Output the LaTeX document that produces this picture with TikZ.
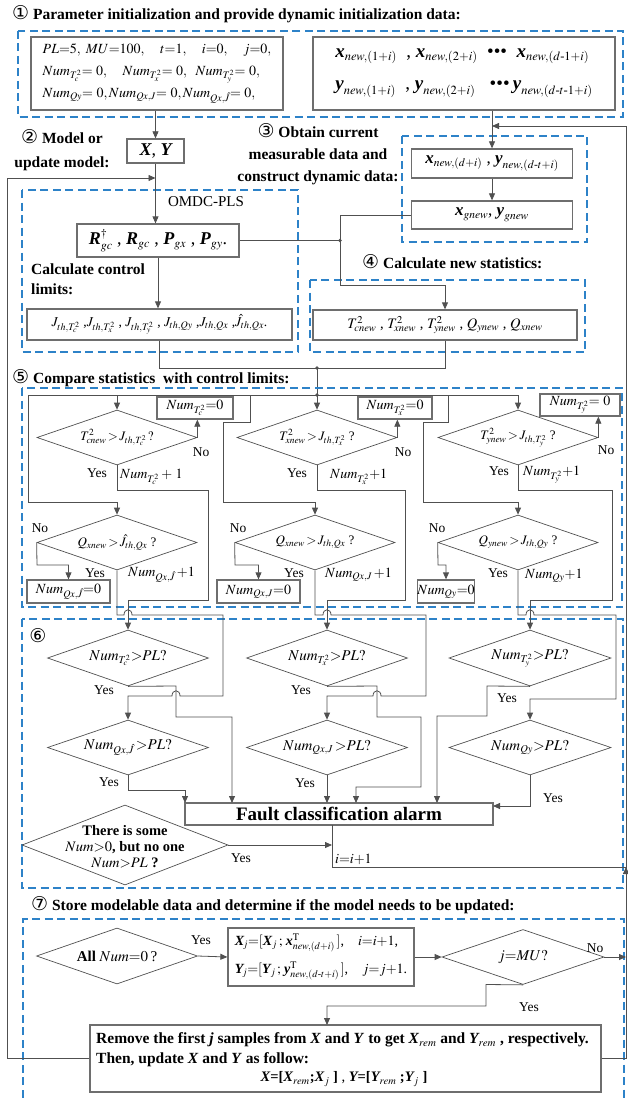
\documentclass[tikz,border=0pt]{standalone}
\usepackage{mathptmx}
\usepackage{amsmath}
\usepackage[no-math]{fontspec}
\setmainfont{Liberation Serif}
\newfontfamily\dejavu{DejaVu Sans}
\usetikzlibrary{arrows.meta,shapes.geometric}
\DeclareMathSizes{13}{13}{9.5}{7.5}
\DeclareMathSizes{13.5}{13.5}{10}{8}
\DeclareMathSizes{14}{14}{10}{8}
\DeclareMathSizes{14.5}{14.5}{10.5}{8}
\DeclareMathSizes{15}{15}{10.5}{8}
\DeclareMathSizes{15.5}{15.5}{11}{8.5}
\DeclareMathSizes{17}{17}{11.5}{9}
\DeclareMathSizes{18}{18}{12}{9}
\DeclareMathSizes{19}{19}{12.5}{9.5}
\definecolor{dblue}{RGB}{45,130,200}
\definecolor{boxgray}{RGB}{110,110,110}
\definecolor{lgray}{RGB}{80,80,80}
\newcommand{\bi}[1]{\text{\bfseries\itshape #1}}
\newcommand{\cn}[1]{{\dejavu\mdseries\fontsize{19}{19}\selectfont #1}}
\newcommand{\fsz}[2]{\fontsize{#1}{#2}\selectfont}
\begin{document}
\begin{tikzpicture}[x=1pt,y=-1pt,
  box/.style={draw=boxgray, line width=1.3pt, rectangle, inner sep=0pt},
  dia/.style={draw=lgray, line width=0.7pt, diamond, inner sep=0pt},
  conn/.style={draw=lgray, line width=0.8pt},
  arr/.style={conn, -{Triangle[length=7pt,width=6pt]}},
  dbox/.style={draw=dblue, line width=1.3pt, dash pattern=on 8pt off 4.5pt},
  ttl/.style={font=\fsz{15.5}{23}\bfseries, inner sep=0pt},
  lab/.style={font=\fsz{13.5}{15}, inner sep=0pt},
  dtxt/.style={font=\fsz{13}{15}, inner sep=0pt},
  dot/.style={fill=lgray}
]
\useasboundingbox (0,0) rectangle (628,1102);

% ---------- Section 1 ----------
\node[ttl, anchor=west] (t1) at (12,14) {\cn{①} Parameter initialization and provide dynamic initialization data:};
\draw[dbox] (18,31) rectangle (623,117);
\node[box, minimum width=252pt, minimum height=73pt, align=left, font=\fsz{14}{22}] (pa) at (157,73.5)
 {$PL{=}5,\ MU{=}100,\quad t{=}1,\quad i{=}0,\quad j{=}0,$\\
  $Num_{T^2_c}{=}\ 0,\quad Num_{T^2_x}{=}\ 0,\ \ Num_{T^2_y}{=}\ 0,$\\
  $Num_{Qy}{=}\ 0, Num_{Qx,J}{=}\ 0, Num_{Qx,\hat{J}}{=}\ 0,$};
\node[box, minimum width=302pt, minimum height=73pt, align=left, font=\fsz{19}{32}] (pb) at (464,73.5)
 {$\bi{x}_{new,(1+i)}$ \ , $\bi{x}_{new,(2+i)}$ \ \textbullet\textbullet\textbullet\ \ $\bi{x}_{new,(d\text{-}1+i)}$\\
  $\bi{y}_{new,(1+i)}$ \ , $\bi{y}_{new,(2+i)}$ \ \ \textbullet\textbullet\textbullet\,$\bi{y}_{new,(d\text{-}t\text{-}1+i)}$};

% ---------- Section 2 ----------
\node[ttl, align=center, font=\fsz{15.5}{24}\bfseries] (t2) at (62,150) {\cn{②} Model or\\update model:};
\node[box, minimum width=57pt, minimum height=24pt, font=\fsz{18}{20}] (xy) at (155.5,151) {$\bi{X}$, $\bi{Y}$};
\draw[dbox] (22,190) rectangle (298,352);
\node[font=\fsz{15}{17}, inner sep=0pt] (omdc) at (206,202) {OMDC-PLS};
\node[box, minimum width=162pt, minimum height=33pt, font=\fsz{18}{20}] (rr) at (158,240.5)
 {$\bi{R}^{\dagger}_{gc}$ , $\bi{R}_{gc}$ , $\bi{P}_{gx}$ , $\bi{P}_{gy}$.};
\node[ttl, anchor=north west, align=left, font=\fsz{15.5}{20}\bfseries] (t2b) at (31,264) {Calculate control\\limits:};
\node[box, minimum width=265pt, minimum height=31pt, font=\fsz{13.5}{15}] (jb) at (159.5,324.5)
 {$J_{th,T^2_c}$ ,$J_{th,T^2_x}$ , $J_{th,T^2_y}$ , $J_{th,Q y}$ ,$J_{th,Q x}$ ,$\hat{J}_{th,Q x}$.};

% ---------- Section 3 ----------
\node[ttl, align=center, font=\fsz{15.5}{22}\bfseries] (t3) at (318,154) {\cn{③} Obtain current\\measurable data and\\construct dynamic data:};
\draw[dbox] (402,136) rectangle (587,242);
\node[box, minimum width=161pt, minimum height=29pt, font=\fsz{17}{19}] (cb) at (492,163.5)
 {$\bi{x}_{new,(d+i)}$ , $\bi{y}_{new,(d\text{-}t+i)}$};
\node[box, minimum width=161pt, minimum height=28pt, font=\fsz{17}{19}] (dd) at (492,215)
 {$\bi{x}_{gnew}$,\ $\bi{y}_{gnew}$};

% ---------- Section 4 ----------
\node[ttl, anchor=west] (t4) at (362,262) {\cn{④} Calculate new statistics:};
\draw[dbox] (310,280) rectangle (585,352);
\node[box, minimum width=264pt, minimum height=30pt, font=\fsz{14.5}{16}] (sb) at (445,325)
 {$T^2_{cnew}$ , $T^2_{xnew}$ , $T^2_{ynew}$ , $Q_{ynew}$ , $Q_{xnew}$};

% connectors sections 1-4
\draw[arr] (xy.north |- pa.south) -- (xy.north);
\draw[arr] (xy.south) -- (xy.south |- rr.north);
\draw[arr] (rr.south) -- (rr.south |- jb.north);
\coordinate (j1) at (340,240.5);
\draw[conn] (rr.east) -- (j1);
\draw[arr] (dd.west) -| (340,285) -| (sb.north);
\fill[dot] (j1) circle (1.8pt);
\draw[arr] (cb.north |- pb.south) -- (cb.north);
\draw[arr] (cb.south) -- (dd.north);
\coordinate (rt) at (626,126);
\draw[arr] (rt) -- (492,126);
\coordinate (j2) at (317,368);
\coordinate (j3) at (317,395);
\draw[conn] (jb.south) |- (j2);
\draw[conn] (sb.south) |- (j2);
\draw[conn] (j2) -- (j3);
\fill[dot] (j2) circle (1.8pt);
\fill[dot] (j3) circle (1.8pt);

% feedback loop on the left
\coordinate (lf) at (7,178);
\draw[arr] (lf) -- (155.5,178);

% ---------- Section 5 ----------
\node[ttl, anchor=west] (t5) at (12,378) {\cn{⑤} Compare statistics\ \ with control limits:};
\draw[dbox] (22,388) rectangle (622,607);

\node[dia, minimum width=160pt, minimum height=55pt] (tc) at (117,437.5) {};
\node[dia, minimum width=160pt, minimum height=55pt] (tx) at (317,437.5) {};
\node[dia, minimum width=160pt, minimum height=55pt] (ty) at (518,437.5) {};
\node[dtxt] (tcl) at (tc) {$T^2_{cnew}\,{>}\,J_{th,T^2_c}\,?$};
\node[dtxt] (txl) at (tx) {$T^2_{xnew}\,{>}\,J_{th,T^2_x}$ ?};
\node[dtxt] (tyl) at (ty) {$T^2_{ynew}\,{>}\,J_{th,T^2_y}$ ?};

\node[dia, minimum width=160pt, minimum height=55pt] (q1) at (117,542.5) {};
\node[dia, minimum width=160pt, minimum height=55pt] (q2) at (315,542.5) {};
\node[dia, minimum width=160pt, minimum height=55pt] (q3) at (518,542.5) {};
\node[dtxt] (q1l) at (q1) {$Q_{xnew}\,{>}\,\hat{J}_{th,Q x}$ ?};
\node[dtxt] (q2l) at (q2) {$Q_{xnew}\,{>}\,J_{th,Q x}$ ?};
\node[dtxt] (q3l) at (q3) {$Q_{ynew}\,{>}\,J_{th,Q y}$ ?};

\node[box, minimum width=76pt, minimum height=22pt, font=\fsz{14}{15}] (ntc) at (195,408) {$Num_{T^2_c}{=}0$};
\node[box, minimum width=74pt, minimum height=22pt, font=\fsz{14}{15}] (ntx) at (395,408) {$Num_{T^2_x}{=}0$};
\node[box, minimum width=80pt, minimum height=22pt, font=\fsz{14}{15}] (nty) at (580,405) {$Num_{T^2_y}{=}\ 0$};
\node[box, minimum width=83pt, minimum height=23pt, font=\fsz{14}{15}] (nq1) at (68.5,591.5) {$Num_{Qx,\hat{J}}{=}0$};
\node[box, minimum width=83pt, minimum height=23pt, font=\fsz{14}{15}] (nq2) at (258.5,591.5) {$Num_{Qx,J}{=}0$};
\node[box, minimum width=57pt, minimum height=23pt, font=\fsz{14}{15}] (nq3) at (446,591.5) {$Num_{Qy}{=}0$};

% bus and drops
\draw[arr] (j3) -- (tx.north);
\draw[arr] (j3) -| (tc.north);
\draw[arr] (j3) -| (ty.north);
\draw[arr] (tc.north |- j3) -- (28,395) -- (28,502) -| (q1.north);
\draw[arr] (250,395) -- (250,422) -- (223,422) -- (223,502) -| (q2.north);
\draw[arr] (448,395) -- (448,422) -- (423,422) -- (423,502) -| (q3.north);

% No branches
\draw[arr] (tc.east) -- (tc.east |- ntc.south);
\draw[arr] (tx.east) -- (tx.east |- ntx.south);
\draw[arr] (ty.east) -- (ty.east |- nty.south);
\draw[arr] (q1.west) -- (37,565) -| (nq1.north);
\draw[arr] (q2.west) -- (235,565) -| (nq2.north);
\draw[arr] (q3.west) -- (438,565) -| (nq3.north);

% labels section 5
\node[lab] (y1) at (97,473) {Yes};
\node[lab] (y2) at (297,473) {Yes};
\node[lab] (y3) at (499,471) {Yes};
\node[lab] (n1) at (201,452) {No};
\node[lab] (n2) at (403,452) {No};
\node[lab] (n3) at (606,450) {No};
\node[dtxt, anchor=west, font=\fsz{14}{15}] (p1) at (120,477) {$Num_{T^2_c}+\,1$};
\node[dtxt, anchor=west, font=\fsz{14}{15}] (p2) at (330,477) {$Num_{T^2_x}{+}1$};
\node[dtxt, anchor=west, font=\fsz{14}{15}] (p3) at (523,475) {$Num_{T^2_y}{+}1$};
\node[lab] (n4) at (40,528) {No};
\node[lab] (n5) at (238,528) {No};
\node[lab] (n6) at (437,528) {No};
\node[lab] (y4) at (95,573) {Yes};
\node[lab] (y5) at (294,573) {Yes};
\node[lab] (y6) at (498,573) {Yes};
\node[dtxt, anchor=west, font=\fsz{14}{15}] (p4) at (128,575) {$Num_{Qx,\hat{J}}\,{+}1$};
\node[dtxt, anchor=west, font=\fsz{14}{15}] (p5) at (325,575) {$Num_{Qx,J}\,{+}1$};
\node[dtxt, anchor=west, font=\fsz{14}{15}] (p6) at (525,576) {$Num_{Qy}{+}1$};

% ---------- Section 6 ----------
\draw[dbox] (22,619) rectangle (623,888);
\node[inner sep=0pt] (c6) at (38,636) {\cn{⑥}};
\node[dia, minimum width=161pt, minimum height=56pt] (d1) at (128,658) {};
\node[dia, minimum width=161pt, minimum height=55pt] (d2) at (128,747.5) {};
\node[dia, minimum width=161pt, minimum height=56pt] (d3) at (327,658) {};
\node[dia, minimum width=161pt, minimum height=55pt] (d4) at (327,747.5) {};
\node[dia, minimum width=162pt, minimum height=56pt] (d5) at (530,658) {};
\node[dia, minimum width=162pt, minimum height=55pt] (d6) at (530,747.5) {};
\node[dtxt, font=\fsz{15}{16}] (d1l) at (d1) {$Num_{T^2_c}{>}PL?$};
\node[dtxt, font=\fsz{15}{16}] (d2l) at (d2) {$Num_{Qx,\hat{J}}\,{>}PL?$};
\node[dtxt, font=\fsz{15}{16}] (d3l) at (d3) {$Num_{T^2_x}{>}PL?$};
\node[dtxt, font=\fsz{15}{16}] (d4l) at (d4) {$Num_{Qx,J}\,{>}PL?$};
\node[dtxt, font=\fsz{15}{16}] (d5l) at (d5) {$Num_{T^2_y}{>}PL?$};
\node[dtxt, font=\fsz{15}{16}] (d6l) at (d6) {$Num_{Qy}{>}PL?$};
\node[box, minimum width=308pt, minimum height=22pt, font=\fsz{19}{21}\bfseries] (al) at (339,814) {Fault classification alarm};
\node[dia, minimum width=206pt, minimum height=80pt] (ds) at (125,845) {};
\node[inner sep=0pt, align=center, font=\fsz{14.5}{16}] (dsl) at (125,847)
 {\textbf{There is some}\\ $Num{>}0$\textbf{, but no one}\\ $Num{>}PL$ \textbf{?}};

% Yes paths from section 5 into section 6
\draw[arr] (tc.south) |- (208,490) |- (128,600) -- (d1.north);
\draw[arr] (tx.south) |- (405,490) |- (327,600) -- (d3.north);
\draw[arr] (ty.south) |- (612,490) |- (530,600) -- (d5.north);
\draw[arr] (q1.south) -- (117,615) -- (124,615) .. controls (124,608) and (132,608) .. (132,615)
   -- (223,615) -- (223,696) -- (180,696) .. controls (180,689) and (172,689) .. (172,696) -- (128,696) -- (d2.north);
\draw[arr] (q2.south) -- (315,615) -- (323,615) .. controls (323,608) and (331,608) .. (331,615)
   -- (426,615) -- (426,696) -- (381,696) .. controls (381,689) and (373,689) .. (373,696) -- (327,696) -- (d4.north);
\draw[arr] (q3.south) -- (518,615) -- (526,615) .. controls (526,608) and (534,608) .. (534,615)
   -- (616,615) -- (616,699) -- (530,699) -- (d6.north);

% Yes paths to alarm
\draw[arr] (d1.south) -- (176,686) -- (176,717) -- (232,717) -- (232,803);
\draw[arr] (d2.south) -- (128,790) -- (185,790) -- (185,803);
\draw[arr] (d3.south) -- (377,686) -- (377,717) -- (421,717) -- (421,787) -- (356,787) -- (356,803);
\draw[arr] (d4.south) -- (327,803);
\draw[arr] (d5.south) -- (487,686) -- (487,716) -- (437,716) -- (437,803);
\draw[arr] (d6.south) -- (530,806) -- (493,806);
\node[lab] (y7) at (104,690) {Yes};
\node[lab] (y8) at (109,782) {Yes};
\node[lab] (y9) at (301,690) {Yes};
\node[lab] (y10) at (305,783) {Yes};
\node[lab] (y11) at (507,698) {Yes};
\node[lab] (y12) at (553,798) {Yes};

\coordinate (ii) at (332,867);
\coordinate (ir) at (626,867);
\draw[conn] (332,825) -- (ii) -- (ir);
\draw[arr] (626,882) -- (ir);
\draw[arr] (ds.east) -- (332,845);
\node[lab] (y13) at (241,858) {Yes};
\node[lab, anchor=west, font=\fsz{14}{15}] (iil) at (335,859) {$i{=}i{+}1$};

% ---------- Section 7 ----------
\node[ttl, anchor=west] (t7) at (31,905) {\cn{⑦} Store modelable data and determine if the model needs to be updated:};
\draw[dbox] (23,1110) -- (23,919) -- (624,919) -- (624,1110);
\node[dia, minimum width=161pt, minimum height=56pt] (da) at (117,956) {};
\node[dtxt, font=\fsz{15}{16}] (dal) at (da) {\textbf{All} $Num{=}0$\,?};
\node[box, minimum width=186pt, minimum height=58pt, align=left, font=\fsz{14}{28}] (xj) at (321,957)
 {$\bi{X}_{\!j}{=}[\bi{X}_j\,;\,\bi{x}^{\mathrm{T}}_{new,(d+i)}\,]$,\quad $i{=}i{+}1$,\\
  $\bi{Y}_{\!j}{=}[\bi{Y}_j\,;\,\bi{y}^{\mathrm{T}}_{new,(d\text{-}t+i)}\,]$,\quad $j{=}j{+}1$.};
\node[dia, minimum width=162pt, minimum height=55pt] (dm) at (523,957) {};
\node[dtxt, font=\fsz{15}{16}] (dml) at (dm) {$j{=}MU?$};
\node[box, minimum width=511pt, minimum height=67pt] (rm) at (345.5,1058.5) {};
\node[inner sep=0pt, anchor=west, font=\fsz{15.5}{17}\bfseries] (rm1) at (96,1040)
 {Remove the first \textit{j} samples from \textit{X} and \textit{Y} to get $\bi{X}_{rem}$ and $\bi{Y}_{rem}$ , respectively.};
\node[inner sep=0pt, anchor=west, font=\fsz{15.5}{17}\bfseries] (rm2) at (96,1060)
 {Then, update \textit{X} and \textit{Y} as follow:};
\node[inner sep=0pt, font=\fsz{14.5}{16}] (rm3) at (344,1079)
 {$\bi{X}$\textbf{=[}$\bi{X}_{rem}$\textbf{;}$\bi{X}_j$ \textbf{]} , $\bi{Y}$\textbf{=[}$\bi{Y}_{rem}$ \textbf{;}$\bi{Y}_j$ \textbf{]}};

\draw[arr] (da.east) -- (xj.west);
\draw[arr] (xj.east) -- (dm.west);
\coordinate (rb) at (626,1058.5);
\coordinate (lb) at (7,1058.5);
\draw[arr] (dm.east) -- (626,957);
\draw[arr] (dm.south) -- (486,984.5) -- (486,1006) -- (327,1006) -- (327,1025);
\node[lab] (y14) at (201,940) {Yes};
\node[lab] (n7) at (595,948) {No};
\node[lab] (y15) at (529,1007) {Yes};
\draw[conn] (rm.east) -- (rb) -- (rt);
\draw[conn] (rm.west) -- (lb) -- (lf);
\end{tikzpicture}
\end{document}
